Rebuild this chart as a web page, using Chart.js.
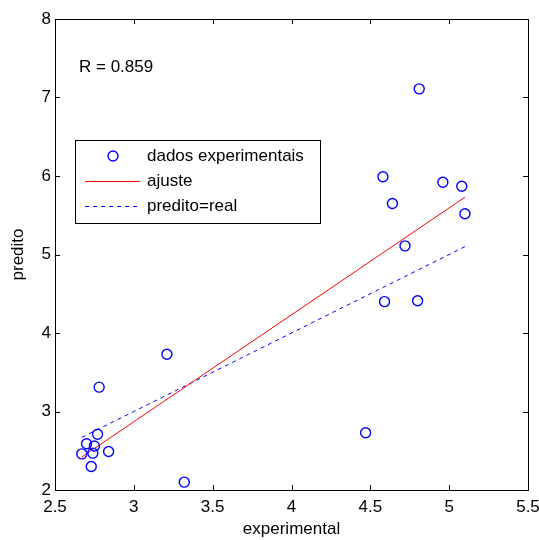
<!DOCTYPE html>
<html>
<head>
<meta charset="utf-8">
<script src="https://cdn.jsdelivr.net/npm/chart.js@4.4.1/dist/chart.umd.min.js"></script>
<style>
  html, body { margin: 0; padding: 0; background: #fff; }
  #wrap { width: 539px; height: 540px; }
</style>
</head>
<body>
<div id="wrap"><canvas id="c" width="539" height="540"></canvas></div>
<script>
// measured values (experimental vs predito)
const expX = [2.67, 2.70, 2.73, 2.74, 2.75, 2.77, 2.78, 2.84, 3.21, 3.32,
              4.47, 4.58, 4.59, 4.64, 4.72, 4.80, 4.81, 4.96, 5.08, 5.10];
const predY = [2.46, 2.59, 2.30, 2.47, 2.56, 2.71, 3.31, 2.49, 3.73, 2.10,
               2.73, 5.99, 4.40, 5.65, 5.11, 4.41, 7.11, 5.92, 5.87, 5.52];

// linear fit (ajuste) and identity line (predito=real)
const fitX = [2.67, 5.10];
const fitY = [2.42, 5.73];
const refX = [2.67, 5.10];
const refY = [2.67, 5.10];

const xTicks = [2.5, 3, 3.5, 4, 4.5, 5, 5.5];
const yTicks = [2, 3, 4, 5, 6, 7, 8];
const rText = 'R = 0.859';

const FONT = "'Liberation Sans', Arial, sans-serif";

const toPts = (xs, ys) => xs.map((x, i) => ({ x: x, y: ys[i] }));

// box, inward ticks on all four sides, R label and the legend
const matlabAxes = {
  id: 'matlabAxes',
  afterDraw(chart) {
    const { ctx, chartArea: a, scales } = chart;
    const xs = scales.x, ys = scales.y;
    ctx.save();
    ctx.strokeStyle = '#000';
    ctx.lineWidth = 1;
    ctx.strokeRect(Math.round(a.left) + 0.5, Math.round(a.top) + 0.5,
                   Math.round(a.right - a.left), Math.round(a.bottom - a.top));
    const tl = 5;
    ctx.beginPath();
    xTicks.forEach(v => {
      const px = Math.round(xs.getPixelForValue(v)) + 0.5;
      ctx.moveTo(px, a.bottom); ctx.lineTo(px, a.bottom - tl);
      ctx.moveTo(px, a.top); ctx.lineTo(px, a.top + tl);
    });
    yTicks.forEach(v => {
      const py = Math.round(ys.getPixelForValue(v)) + 0.5;
      ctx.moveTo(a.left, py); ctx.lineTo(a.left + tl, py);
      ctx.moveTo(a.right, py); ctx.lineTo(a.right - tl, py);
    });
    ctx.stroke();

    // R annotation
    ctx.fillStyle = '#000';
    ctx.font = '17px ' + FONT;
    ctx.textBaseline = 'middle';
    ctx.textAlign = 'left';
    ctx.fillText(rText, 79, 67);

    // legend box
    const lx = 75, ly = 140, lw = 245, lh = 83;
    ctx.fillStyle = '#fff';
    ctx.fillRect(lx, ly, lw, lh);
    ctx.strokeStyle = '#000';
    ctx.strokeRect(lx + 0.5, ly + 0.5, lw, lh);
    const rows = [156, 181, 206];
    chart.data.datasets.forEach((ds, i) => {
      const y = rows[i];
      ctx.save();
      ctx.strokeStyle = ds.borderColor;
      ctx.lineWidth = ds.borderWidth;
      if (i === 0) {
        ctx.beginPath();
        ctx.arc(113, y, ds.pointRadius, 0, Math.PI * 2);
        ctx.stroke();
      } else {
        ctx.setLineDash(ds.borderDash || []);
        ctx.beginPath();
        ctx.moveTo(85, y + 0.5); ctx.lineTo(140, y + 0.5);
        ctx.stroke();
      }
      ctx.restore();
      ctx.fillStyle = '#000';
      ctx.font = '17px ' + FONT;
      ctx.textBaseline = 'middle';
      ctx.fillText(ds.label, 147, y);
    });
    ctx.restore();
  }
};

new Chart(document.getElementById('c'), {
  type: 'scatter',
  data: {
    datasets: [
      {
        label: 'dados experimentais',
        data: toPts(expX, predY),
        showLine: false,
        pointStyle: 'circle',
        pointRadius: 5,
        pointHoverRadius: 5,
        borderColor: '#0000ff',
        backgroundColor: 'rgba(0,0,0,0)',
        borderWidth: 1.4,
      },
      {
        label: 'ajuste',
        data: toPts(fitX, fitY),
        showLine: true,
        pointRadius: 0,
        borderColor: '#ff0000',
        borderWidth: 1,
      },
      {
        label: 'predito=real',
        data: toPts(refX, refY),
        showLine: true,
        pointRadius: 0,
        borderColor: '#0000ff',
        borderWidth: 1,
        borderDash: [4, 4],
      }
    ]
  },
  options: {
    responsive: false,
    animation: false,
    layout: { padding: { top: 19, right: 11, left: 0, bottom: 0 } },
    plugins: {
      legend: { display: false },
      tooltip: { enabled: false }
    },
    scales: {
      x: {
        type: 'linear',
        min: 2.5, max: 5.5,
        afterBuildTicks: s => { s.ticks = xTicks.map(v => ({ value: v })); },
        afterFit: s => { s.height = 50; s.paddingLeft = 0; s.paddingRight = 0; },
        grid: { display: false, drawTicks: false },
        border: { display: false },
        ticks: { color: '#000', padding: 7, font: { family: FONT, size: 17 }, callback: v => String(v) },
        title: { display: true, text: 'experimental', color: '#000', padding: { top: 0, bottom: 0 }, font: { family: FONT, size: 17 } }
      },
      y: {
        type: 'linear',
        min: 2, max: 8,
        afterBuildTicks: s => { s.ticks = yTicks.map(v => ({ value: v })); },
        afterFit: s => { s.width = 55; s.paddingTop = 0; s.paddingBottom = 0; },
        grid: { display: false, drawTicks: false },
        border: { display: false },
        ticks: { color: '#000', padding: 4, font: { family: FONT, size: 17 }, callback: v => String(v) },
        title: { display: true, text: 'predito', color: '#000', padding: { top: 8, bottom: 8 }, font: { family: FONT, size: 17 } }
      }
    }
  },
  plugins: [matlabAxes]
});
</script>
</body>
</html>
